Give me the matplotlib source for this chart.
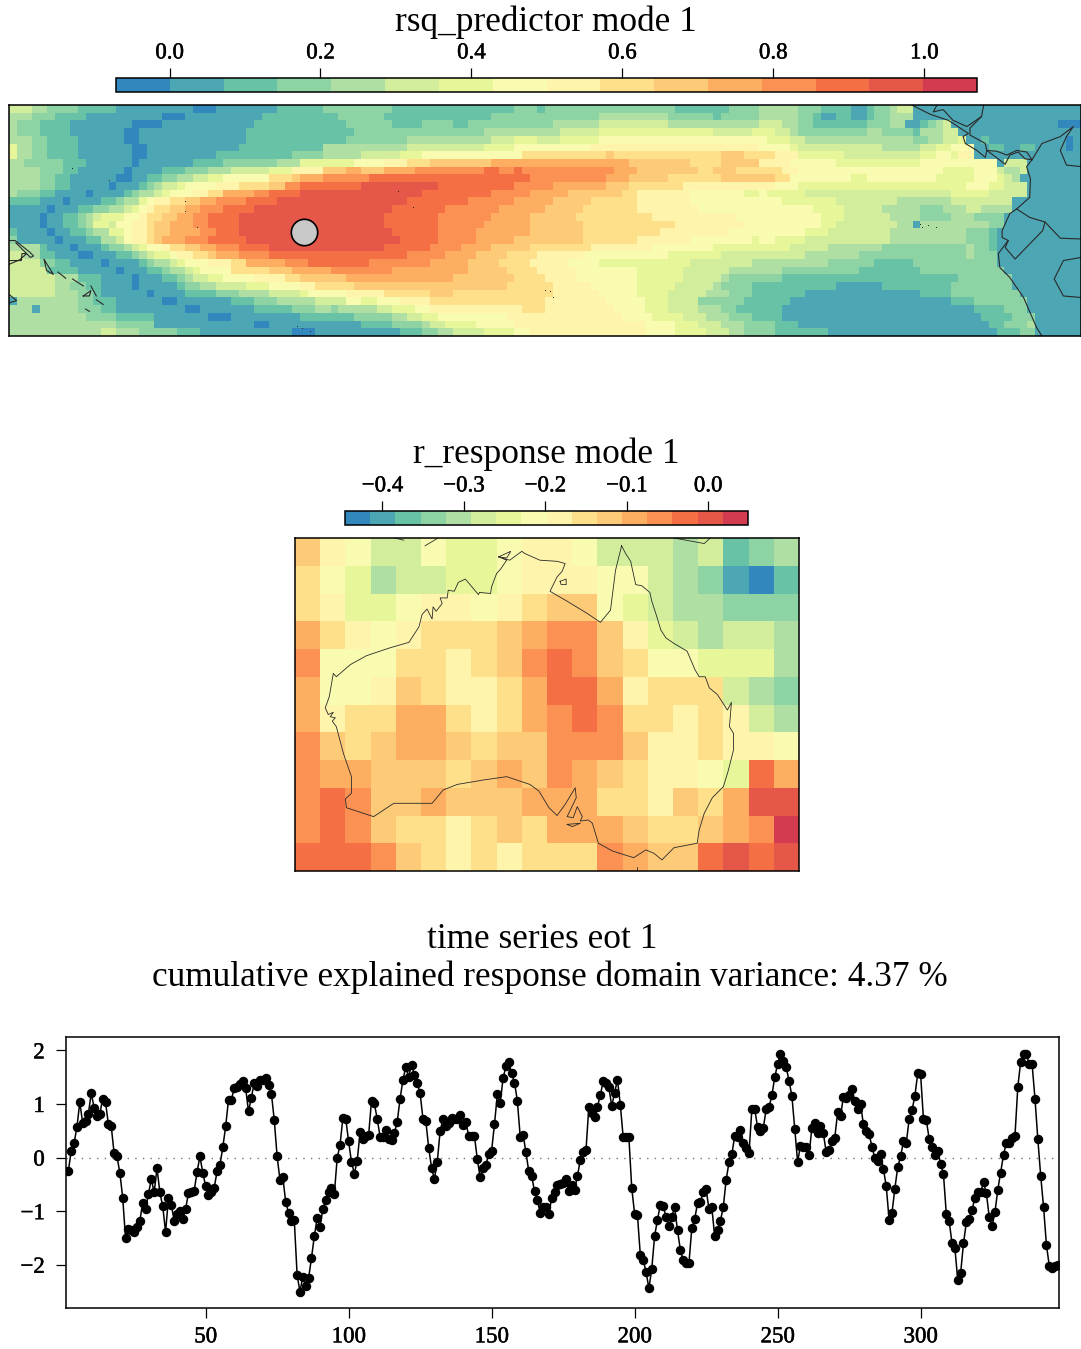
import numpy as np
import matplotlib
matplotlib.use("Agg")
import matplotlib.pyplot as plt
import matplotlib.patheffects as pe
from matplotlib.colors import ListedColormap, BoundaryNorm
from matplotlib.ticker import FuncFormatter

plt.rcParams["font.family"] = ["Liberation Serif", "DejaVu Serif"]

W, H = 1081, 1349

palette = ["#3288BD", "#4DA6B3", "#68C2A6", "#8DD3A4", "#B0DFA3", "#D2EE9C", "#E8F69A", "#F9FBB0",
           "#FEF4AC", "#FEE08B", "#FDCB78", "#FDAE61", "#FB9152", "#F46F43", "#E55749", "#D33C50"]

# class:end_column, one line per latitude row from north to south
rsq_rows = [
    "5:3 4:5 3:9 2:14 1:24 0:27 1:35 2:41 3:50 2:66 3:69 2:70 3:87 2:94 3:98 4:103 3:106 2:110 1:112 2:113 3:115 4:116 5:118 1:140",
    "4:3 3:6 2:10 1:20 0:23 1:33 2:43 3:49 2:63 3:77 4:86 3:92 2:93 3:98 4:103 3:105 2:106 1:108 2:110 1:112 2:113 3:115 4:118 1:140",
    "4:1 3:4 2:8 1:16 0:20 1:32 2:44 3:50 2:54 3:58 2:60 3:71 4:77 5:86 4:98 5:101 4:103 3:105 2:112 3:115 4:117 1:119 2:120 3:121 4:122 5:123 1:137 0:140",
    "4:1 3:4 2:8 1:15 0:17 1:31 2:45 3:62 4:72 5:77 6:92 5:97 6:100 5:102 4:103 3:112 4:114 3:118 2:119 4:122 5:124 1:140",
    "4:3 3:5 2:9 1:15 0:17 1:31 2:44 3:52 4:63 5:66 6:69 5:72 6:77 7:99 6:102 5:104 4:118 3:120 4:122 5:124 6:125 1:127 2:128 1:138 0:139 1:140",
    "6:1 4:3 3:5 2:9 1:16 0:18 1:30 2:41 4:52 5:62 6:66 7:76 8:98 7:102 6:103 5:114 4:119 5:121 6:123 7:126 1:128 2:130 1:132 2:134 1:138 0:139 1:140",
    "6:1 4:3 3:5 2:9 1:16 0:18 1:27 2:37 3:41 4:46 5:51 6:54 7:67 9:78 10:79 9:93 10:96 9:100 8:103 6:109 5:119 6:121 7:123 6:124 8:126 1:140",
    "4:2 3:7 2:10 1:16 0:17 1:24 2:28 3:35 4:38 6:45 7:49 8:52 9:55 10:63 11:81 10:89 9:93 10:98 8:102 7:108 6:119 7:129 1:130 5:133 1:140",
    "4:4 3:7 2:9 1:15 0:16 1:20 2:23 3:26 4:29 5:34 6:37 8:41 10:44 11:46 10:49 11:53 12:62 13:64 12:66 13:67 12:79 11:82 10:90 9:92 10:95 9:101 8:103 7:122 6:126 7:129 5:130 4:132 5:133 1:140",
    "4:4 3:6 2:8 1:14 0:16 1:18 2:20 3:22 4:24 5:26 6:28 7:34 9:37 10:38 11:41 12:47 13:68 12:78 11:81 10:86 9:93 10:100 9:102 7:110 6:112 7:121 6:126 7:129 6:130 5:131 4:132 1:140",
    "4:4 3:6 2:8 1:13 0:14 1:17 2:18 3:19 4:20 5:22 6:23 7:27 8:30 9:34 10:36 12:38 13:46 14:56 13:66 12:71 11:78 10:81 9:88 8:100 7:103 6:125 7:128 6:130 5:133 1:140",
    "4:1 3:4 2:6 1:10 0:11 1:15 2:16 3:17 4:19 5:20 6:21 7:24 8:26 9:28 11:32 12:34 13:38 14:54 13:63 12:68 11:73 10:80 9:82 8:89 7:96 6:98 7:99 6:104 5:123 6:128 5:133 1:140",
    "2:4 1:7 0:8 1:12 2:14 3:15 4:17 6:18 7:19 8:21 9:23 10:25 11:27 12:31 13:35 14:52 13:60 12:66 11:71 10:76 9:82 8:89 7:101 6:108 5:116 4:123 5:131 1:140",
    "1:5 0:6 1:9 2:11 3:13 4:15 5:16 6:17 7:18 8:19 9:21 10:23 11:25 12:28 13:32 14:50 13:57 12:64 11:70 10:75 9:82 8:90 7:105 6:109 5:114 4:119 3:122 4:125 5:127 4:131 1:140",
    "1:4 0:5 1:7 2:9 3:10 4:11 5:12 6:15 7:17 8:18 9:20 10:22 11:24 12:26 13:30 14:49 13:56 12:63 11:68 10:74 9:84 8:95 7:106 6:109 5:115 4:119 3:123 4:126 3:130 1:140",
    "1:4 0:5 1:7 2:9 3:10 4:11 6:13 5:14 7:16 8:18 9:19 10:21 11:24 12:26 13:30 14:49 13:56 12:62 11:68 10:75 9:87 8:96 7:106 6:108 5:116 4:118 1:119 4:128 3:130 1:140",
    "2:1 1:5 0:6 1:8 2:10 3:11 4:13 6:15 7:16 8:18 9:19 10:21 11:25 12:27 13:30 14:50 13:56 12:61 11:68 10:75 9:85 8:94 7:104 6:107 5:115 4:125 3:128 2:129 1:140",
    "3:1 1:6 0:7 1:10 2:12 4:14 5:15 7:16 8:18 9:19 10:20 11:23 12:26 13:31 14:51 13:56 12:61 11:66 10:75 9:82 8:89 7:97 6:98 7:100 6:104 5:115 4:125 3:128 2:129 1:140",
    "4:4 2:5 1:8 0:9 1:12 2:13 3:15 4:16 5:17 6:18 7:20 8:21 9:23 10:25 11:27 12:30 13:34 14:49 13:55 12:59 11:63 10:68 9:76 8:84 7:92 6:102 5:107 4:114 3:125 4:126 3:128 2:129 1:140",
    "5:2 4:4 2:6 1:9 0:11 1:14 2:16 3:17 4:18 5:19 6:21 7:22 8:24 9:26 10:27 11:30 12:34 13:52 12:57 11:61 10:65 9:69 8:75 7:86 6:93 5:104 4:111 3:125 4:126 3:129 1:140",
    "5:4 3:6 2:8 1:12 0:13 1:17 2:18 3:19 4:21 5:22 6:23 7:26 8:29 9:31 11:36 12:39 13:47 12:55 11:60 10:64 9:68 8:73 7:77 6:89 5:97 4:107 3:113 2:118 3:129 1:140",
    "5:5 2:9 1:14 0:15 1:18 2:20 3:21 4:23 5:24 6:25 7:29 9:34 10:37 11:42 12:50 11:60 10:65 9:69 8:74 7:82 6:88 5:94 4:101 3:111 2:119 3:130 1:140",
    "5:6 4:9 2:12 1:16 0:17 1:20 2:22 3:23 4:24 5:26 6:28 7:32 8:36 9:38 10:44 11:58 10:66 9:70 8:74 7:82 6:88 5:93 4:94 3:101 2:124 3:131 1:140",
    "5:6 4:8 3:10 2:12 1:16 0:17 1:22 2:23 3:25 4:27 5:31 6:34 7:38 8:40 9:45 10:65 9:71 8:76 7:82 6:87 5:92 4:93 3:97 2:108 1:114 2:123 3:131 1:140",
    "5:6 4:9 3:11 2:12 1:18 0:19 1:23 2:27 3:30 4:34 5:38 6:39 7:44 8:49 9:55 10:58 9:71 8:77 7:82 6:86 5:91 4:94 3:97 2:104 1:119 2:123 3:132 1:140",
    "1:1 4:9 3:11 2:14 1:20 0:22 1:29 2:32 3:35 4:40 5:44 7:46 6:48 7:51 8:55 9:70 8:78 7:83 6:86 5:90 3:96 2:102 1:123 2:126 3:133 1:140",
    "4:3 1:4 4:9 3:12 2:14 1:23 0:25 1:32 2:37 3:40 4:42 3:43 4:48 5:50 6:53 7:55 8:67 9:70 8:79 7:83 6:86 5:90 4:93 3:95 2:101 1:126 2:130 3:133 1:140",
    "4:10 3:14 2:19 1:26 0:29 1:38 2:45 3:50 4:52 5:54 6:56 7:65 8:80 7:84 6:88 5:91 4:94 3:97 2:101 1:127 2:131 3:134 1:140",
    "4:14 3:19 1:32 0:34 1:46 2:50 3:54 4:55 5:57 6:61 7:66 8:83 7:87 6:90 5:93 4:96 3:100 2:103 1:128 2:130 3:133 4:134 1:140",
    "4:12 5:14 4:17 3:22 2:25 1:37 0:40 1:51 2:54 3:56 4:58 5:62 6:66 7:68 8:83 7:87 6:91 5:94 4:96 3:100 2:107 1:129 2:132 3:134 1:140",
]

r_classes = [
    [10, 8, 7, 5, 5, 7, 6, 6, 7, 8, 8, 7, 5, 5, 5, 4, 5, 2, 3, 4],
    [9, 7, 6, 4, 5, 5, 6, 6, 7, 8, 8, 8, 7, 7, 5, 4, 3, 1, 0, 2],
    [9, 8, 6, 6, 7, 8, 8, 7, 8, 9, 10, 10, 7, 6, 5, 4, 4, 3, 3, 3],
    [11, 9, 8, 7, 8, 9, 9, 9, 10, 11, 12, 12, 10, 8, 6, 5, 4, 5, 5, 4],
    [12, 7, 7, 7, 9, 9, 8, 9, 10, 12, 13, 12, 10, 9, 7, 7, 6, 6, 6, 4],
    [11, 7, 7, 8, 10, 9, 8, 8, 9, 11, 13, 13, 11, 8, 9, 9, 9, 5, 4, 3],
    [11, 8, 9, 9, 11, 11, 9, 8, 9, 11, 12, 13, 12, 9, 9, 8, 9, 8, 5, 4],
    [12, 10, 9, 10, 11, 11, 10, 9, 10, 10, 12, 12, 12, 10, 8, 8, 9, 8, 8, 7],
    [12, 11, 11, 10, 10, 10, 9, 10, 11, 10, 12, 11, 10, 9, 8, 8, 7, 6, 13, 11],
    [12, 13, 12, 10, 10, 11, 10, 10, 10, 11, 11, 11, 9, 9, 8, 10, 9, 11, 14, 14],
    [12, 13, 12, 10, 9, 9, 8, 9, 10, 9, 11, 11, 11, 10, 9, 9, 10, 11, 12, 15],
    [13, 13, 13, 12, 10, 9, 8, 9, 8, 9, 9, 9, 12, 11, 10, 10, 13, 14, 13, 14],
]

eot_values = [
    -0.25, 0.13, 0.27, 0.57, 1.03, 0.65, 0.69, 0.82, 1.2, 0.93, 0.77, 0.81, 1.1, 1.03, 0.62, 0.58, 0.08, 0.02,
    -0.28, -0.75, -1.51, -1.33, -1.35, -1.38, -1.3, -1.18, -0.84, -0.96, -0.68, -0.4, -0.65, -0.2, -0.65, -0.91,
    -1.39, -0.75, -0.88, -1.18, -1.05, -0.99, -1.15, -0.96, -0.66, -0.65, -0.62, -0.27, 0.02, -0.28, -0.53, -0.7,
    -0.65, -0.56, -0.26, -0.14, 0.19, 0.58, 1.08, 1.08, 1.29, 1.31, 1.37, 1.42, 1.29, 0.86, 1.12, 1.39, 1.34, 1.44,
    1.45, 1.49, 1.36, 1.19, 0.7, 0.02, -0.42, -0.37, -0.83, -1.03, -1.18, -1.17, -2.2, -2.5, -2.22, -2.4, -2.25,
    -1.88, -1.47, -1.13, -1.29, -0.96, -0.79, -0.65, -0.56, -0.68, -0.01, 0.24, 0.74, 0.72, 0.3, -0.08, -0.3, -0.06,
    0.47, 0.35, 0.4, 0.42, 1.06, 1.01, 0.72, 0.39, 0.39, 0.52, 0.35, 0.32, 0.45, 0.67, 1.1, 1.45, 1.69, 1.51, 1.73,
    1.54, 1.39, 1.2, 0.72, 0.68, 0.18, -0.19, -0.4, -0.08, 0.5, 0.72, 0.58, 0.65, 0.73, 0.72, 0.72, 0.8, 0.61, 0.66,
    0.4, 0.4, 0.4, -0.03, -0.37, -0.19, -0.14, 0.07, 0.13, 0.62, 1.18, 1.01, 1.48, 1.7, 1.78, 1.57, 1.4, 1.06, 0.39,
    0.43, 0.1, -0.26, -0.34, -0.63, -0.8, -1.03, -0.93, -0.93, -1.05, -0.76, -0.65, -0.52, -0.49, -0.47, -0.4, -0.63,
    -0.51, -0.61, -0.35, -0.04, 0.11, 0.14, 0.95, 0.83, 0.75, 0.95, 1.16, 1.42, 1.39, 1.31, 0.96, 1.21, 1.45, 0.99,
    0.38, 0.38, 0.38, -0.57, -1.05, -1.08, -1.82, -1.91, -2.13, -2.44, -2.08, -1.46, -1.16, -0.88, -0.91, -1.11,
    -1.28, -1.1, -0.93, -1.36, -1.72, -1.92, -1.96, -1.97, -1.32, -1.15, -0.85, -0.82, -0.65, -0.59, -0.96, -0.93,
    -1.47, -1.36, -1.18, -0.93, -0.42, -0.09, 0.06, 0.4, 0.38, 0.52, 0.27, 0.17, 0.08, 0.9, 0.9, 0.57, 0.49, 0.55,
    0.9, 0.94, 1.16, 1.5, 1.74, 1.94, 1.81, 1.69, 1.43, 1.15, 0.54, -0.08, 0.22, 0.2, 0.2, 0.05, 0.56, 0.64, 0.45,
    0.58, 0.45, 0.1, 0.14, 0.3, 0.37, 0.85, 0.77, 1.13, 1.12, 1.17, 1.28, 1.05, 0.9, 1.0, 0.62, 0.49, 0.44, 0.2,
    -0.01, -0.07, 0.07, -0.21, -0.54, -1.16, -1.03, -0.58, -0.18, 0.02, 0.3, 0.27, 0.72, 0.88, 1.15, 1.57, 1.56,
    0.72, 0.7, 0.35, 0.19, 0.05, 0.13, -0.12, -0.31, -1.06, -1.19, -1.6, -1.69, -2.29, -2.16, -1.6, -1.21, -1.14,
    -0.98, -0.75, -0.65, -0.65, -0.46, -0.67, -1.1, -1.28, -1.02, -0.6, -0.28, 0.05, 0.28, 0.28, 0.37, 0.4, 1.32,
    1.79, 1.93, 1.94, 1.74, 1.74, 1.1, 0.34, -0.34, -0.92, -1.63, -2.02, -2.06, -2.02, -2.01,
]

rsq_ticks = [0.0, 0.2, 0.4, 0.6, 0.8, 1.0]
r_ticks = [-0.4, -0.3, -0.2, -0.1, 0.0]
eot_xticks = [50, 100, 150, 200, 250, 300]
eot_yticks = [-2, -1, 0, 1, 2]

pacific_coast = [
    [(267.9, 15), (270.3, 13.8), (272.7, 13), (275.3, 11.3), (274.6, 10.9), (274.9, 10), (276.4, 9.1), (277.5, 8.2),
     (277.7, 9.1), (278.8, 8.3), (280.1, 7.3), (280.7, 8.5), (281.8, 8.9), (282.7, 8), (283.6, 7.9)],
    [(277.3, 15), (277, 13.5), (275.5, 12), (275.5, 11.1), (277.5, 10), (277.7, 9.1), (279, 9), (280.3, 8.5),
     (281.6, 9.1), (282.9, 8.9), (283.6, 7.9)],
    [(283.6, 7.9), (282.9, 7), (283.4, 5.4), (283.3, 3), (281.6, 1.5), (280.7, 0.9), (279.7, -1.3), (279.7, -2.2),
     (280.5, -2.6), (279.2, -4.3), (279.4, -6.1), (280.7, -7.4), (282.5, -10), (284.2, -13.9), (284.9, -15)],
    [(283.6, 7.9), (284.9, 10), (287.3, 10.9), (289, 12.2), (288.1, 10.9), (287.3, 9.1), (288.1, 7.2), (290, 7)],
    [(281.6, 1.5), (283.3, 0.4), (285.3, -0.2), (285, -1.3), (281.4, -5), (280.1, -3.5), (280.5, -2.6)],
    [(285.3, -0.2), (287.3, -2.3), (290, -2.4)],
    [(290, -4.8), (287.7, -5.2), (286.5, -7.6), (287.7, -9.8), (290, -10)],
    [(271.2, 15), (270.7, 14.1), (272, 14.4), (273.3, 13), (275.1, 12.2), (277, 13.5)],
    [(150, -5.7), (151.4, -5.1), (152.3, -4.3), (151.7, -4.3), (151.6, -5.2), (150, -5.2)],
    [(150, -2.6), (150.8, -2.6), (152.7, -4.1), (153.2, -4.6), (152.8, -4.8), (150.9, -2.9)],
    [(154.6, -5.1), (155.8, -7), (154.9, -6.5), (154.6, -5.1)],
    [(156.4, -6.7), (157.4, -7.5)],
    [(158.3, -7.6), (159.7, -8.5)],
    [(160.7, -8.5), (161.4, -9.8)],
    [(159.7, -9.8), (160.7, -9.1), (160.5, -9.8), (159.7, -9.8)],
    [(161.4, -10.3), (162.3, -10.9)],
    [(160, -11.5), (160.5, -11.8)],
    [(150, -9.6), (151, -10.4), (150, -10.7)],
]
pacific_islands_lon = [158.2, 163, 173, 173, 174.5, 200.8, 202.7, 220, 220.6, 221, 187.6, 188.2, 189.3, 269, 269.3, 270, 271]
pacific_islands_lat = [6.8, 5.2, 2.5, 1.2, -0.8, 3.8, 1.8, -9, -9.1, -10, -13.7, -14, -14.3, -0.4, -0.8, -0.6, -0.8]

aus_coast = [
    [(142.4, -10.7), (142.8, -11.4), (143.3, -12.1), (143.8, -14.2), (144.4, -14.3), (145.2, -14.9), (145.4, -15.7),
     (145.9, -17.1), (146.3, -18.3), (146.8, -19), (147.6, -19.5), (148.9, -20.2), (149.7, -21.9), (150.1, -22.5),
     (150.7, -22.5), (151.1, -23.5), (151.9, -24.1), (152.9, -25.5), (153.3, -24.8), (153.1, -27), (153.5, -27.6),
     (153.5, -29.1), (153, -30.9), (152.5, -32.4), (151.4, -33.4), (150.6, -34.8), (150.1, -36.3), (149.9, -37.5),
     (147.6, -37.9), (146.4, -39), (145.6, -38.4), (144.8, -38.1), (143.6, -38.8), (141.5, -38.2), (140.1, -37.5),
     (139.5, -35.7), (139.1, -35.4), (138.3, -35.5), (138.5, -35.1), (138, -34.2), (137.6, -35.2), (137, -35.1),
     (137.9, -33.4), (137.8, -32.5), (136.8, -34), (136, -35), (135.2, -34.3), (134.2, -32.8), (133.3, -32.2),
     (131, -31.5), (128.7, -31.8), (126.1, -32.2), (124.7, -32.7), (123.6, -33.9), (119.8, -33.9), (117.8, -35.1),
     (115.1, -34.3), (115, -33.5), (115.6, -33), (115.6, -31.5), (114.8, -29.4), (114.1, -27), (113.7, -26.5),
     (114, -26.2), (113.5, -26.1), (113.8, -25.7), (113.3, -25.9), (113, -25.3), (113.4, -24.3), (113.8, -22.2),
     (114.1, -22.5), (115.5, -21.4), (117.1, -20.6), (119.4, -19.9), (121.3, -19.4), (122.3, -18), (122.6, -16.9),
     (123.1, -16.4), (123.6, -17.3), (123.7, -16.2), (124, -16.6), (124.6, -15.9), (124.4, -15.4), (125.1, -15.4),
     (125.2, -14.7), (125.8, -14.8), (126.2, -14), (126.9, -13.7), (128.2, -15.1), (128.3, -14.9), (129.4, -15),
     (129.5, -14.4), (130, -13.2), (130.4, -12.8), (131, -12), (130.2, -11.7), (131.3, -12), (132.5, -11.2),
     (132.8, -11.4), (134.3, -12), (136, -12.1), (136.8, -12.3), (136.5, -13), (136, -13.5), (135.3, -14.8),
     (137, -15.7), (139, -16.8), (140.3, -17.6), (141.3, -16.5), (141.8, -12.9), (142.4, -10.7)],
    [(137, -35.8), (138.3, -35.7), (137.5, -36), (137, -35.8)],
    [(136.3, -13.9), (136.9, -13.7), (136.9, -14.2), (136.4, -14.2), (136.3, -13.9)],
    [(130.2, -11.7), (131.4, -11.2), (131, -11.8), (130.2, -11.7)],
    [(147.6, -10), (150.6, -10.5), (151.2, -10)],
    [(119.9, -10), (120.8, -10.2)],
    [(122.9, -10.7), (124.2, -10)],
    [(143.9, -39.6), (143.9, -40)],
]


def box(x0, y0, x1, y1):
    return [x0 / W, 1 - y1 / H, (x1 - x0) / W, (y1 - y0) / H]


def decode(row):
    classes = []
    start = 0
    for part in row.split():
        c, end = part.split(":")
        classes += [int(c)] * (int(end) - start)
        start = int(end)
    return classes


def thicken(labels):
    for t in labels:
        t.set_path_effects([pe.withStroke(linewidth=0.35, foreground="black")])


def draw_map(fig, pos, cpos, classes, levels, lons, lats, ticks):
    cmap = ListedColormap(palette)
    norm = BoundaryNorm(levels, 16)
    classes = np.array(classes)
    values = (levels[classes] + levels[classes + 1]) / 2
    ax = fig.add_axes(box(*pos))
    mesh = ax.pcolormesh(lons, lats, values, cmap=cmap, norm=norm, linewidth=0, antialiased=False)
    ax.set_xlim(lons[0], lons[-1])
    ax.set_ylim(lats[-1], lats[0])
    ax.set_xticks([])
    ax.set_yticks([])
    for s in ax.spines.values():
        s.set_linewidth(1.1)
    cax = fig.add_axes(box(*cpos))
    fmt = FuncFormatter(lambda v, p: f"{v:.1f}".replace("-", "\u2212"))
    cb = fig.colorbar(mesh, cax=cax, orientation="horizontal", ticks=ticks, format=fmt, drawedges=False)
    cax.xaxis.set_ticks_position("top")
    cax.tick_params(axis="x", length=7, width=0.9, labelsize=16.5, pad=3.5, which="major")
    cax.minorticks_off()
    thicken(cax.get_xticklabels())
    cb.outline.set_linewidth(1.1)
    return ax


fig = plt.figure(figsize=(W / 100, H / 100), dpi=100)

rsq_classes = [decode(r) for r in rsq_rows]
rsq_levels = np.linspace(-0.071, 1.07, 17)
ax1 = draw_map(fig, (9, 105, 1081, 336), (116, 78, 977, 92), rsq_classes, rsq_levels,
               np.arange(150, 291), np.arange(15, -16, -1), rsq_ticks)
for seg in pacific_coast:
    seg = np.array(seg)
    ax1.plot(seg[:, 0], seg[:, 1], color="#2a2a2a", lw=0.8)
ax1.plot(pacific_islands_lon, pacific_islands_lat, ls="", marker="s", ms=0.7, mew=0, color="#2a2a2a")
ax1.plot([188.5], [-1.5], marker="o", ms=19, mfc="#C8C8C8", mec="black", mew=1.2)

r_levels = np.linspace(-0.446, 0.049, 17)
ax2 = draw_map(fig, (295, 538, 799, 871), (345, 511, 748, 525), r_classes, r_levels,
               np.arange(110, 160.1, 2.5), np.arange(-10, -40.1, -2.5), r_ticks)
for seg in aus_coast:
    seg = np.array(seg)
    ax2.plot(seg[:, 0], seg[:, 1], color="#2a2a2a", lw=0.6)

ax3 = fig.add_axes(box(65.5, 1037, 1059, 1307.6))
eot_x = np.arange(2, 2 + len(eot_values))
ax3.axhline(0, color="#777777", lw=1, ls=(0, (1, 4.5)))
ax3.plot(eot_x, eot_values, color="black", lw=1.1, marker="o", ms=5.8)
ax3.set_xlim(1, 348.4)
ax3.set_ylim(-2.8, 2.25)
ax3.set_xticks(eot_xticks)
ax3.set_yticks(eot_yticks)
ax3.tick_params(length=7, width=0.9, labelsize=16.5)
ax3.tick_params(axis="x", pad=6.5)
ax3.tick_params(axis="y", pad=8)
thicken(ax3.get_xticklabels() + ax3.get_yticklabels())
for s in ax3.spines.values():
    s.set_linewidth(1.1)

fig.text(546 / W, 1 - 22 / H, "rsq_predictor mode 1", ha="center", va="center", fontsize=25.4)
fig.text(546 / W, 1 - 454 / H, "r_response mode 1", ha="center", va="center", fontsize=25.4)
fig.text(542 / W, 1 - 939 / H, "time series eot 1", ha="center", va="center", fontsize=25.4)
fig.text(550 / W, 1 - 977 / H, "cumulative explained response domain variance: 4.37 %", ha="center", va="center", fontsize=25.4)

fig.savefig("out.png", dpi=100)
